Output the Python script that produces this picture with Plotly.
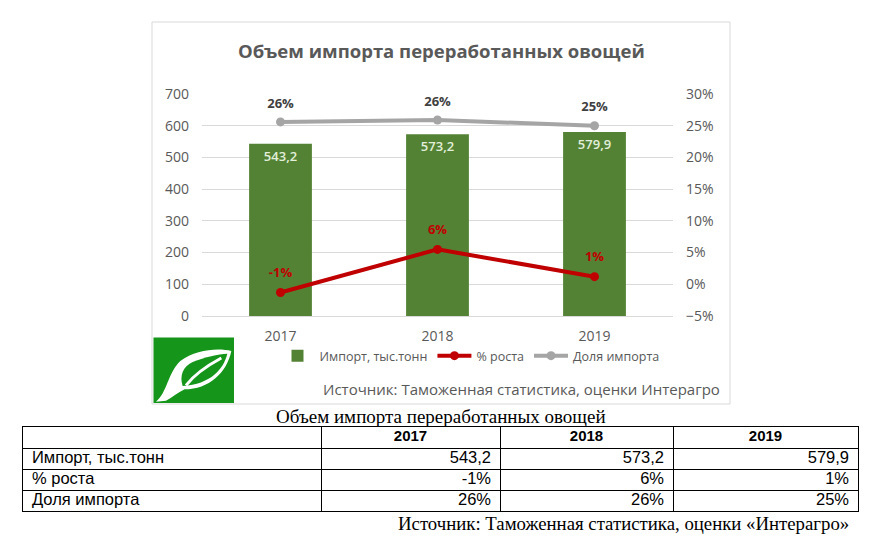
import plotly.graph_objects as go

# figure sits inside the page's 8px body margin
OX, OY = 8, 8
W, H = 875, 539

years = ['2017', '2018', '2019']
import_kt = [543.2, 573.2, 579.9]
growth = [-0.013, 0.055, 0.012]
share = [0.256, 0.259, 0.250]

growth_txt = ['-1%', '6%', '1%']
share_txt = ['26%', '26%', '25%']
row_labels = ['Импорт, тыс.тонн', '% роста', 'Доля импорта']

GREEN = '#548235'
RED = '#C00000'
GRAY = '#A5A5A5'
TXT = '#595959'
LOGO = '#15961A'
FONT = 'Open Sans'
TFONT = 'Liberation Sans'


def px(x, y):
    # reference pixel -> paper coords
    return (x - OX) / W, 1 - (y - OY) / H


def path(cmds, ox=0, oy=0, k=1):
    out = []
    for c in cmds:
        if isinstance(c, str):
            out.append(c)
        else:
            a, b = px(ox + c[0] * k, oy + c[1] * k)
            out.append(f'{a:.5f},{b:.5f}')
    return ' '.join(out)


def logo_path(cmds):
    # logo drawn in a 3x local grid
    return path(cmds, 152, 336, 1 / 3)


fig = go.Figure()

fig.add_trace(go.Bar(
    x=years, y=import_kt, name='Импорт, тыс.тонн',
    marker_color=GREEN, marker_line_width=0,
    texttemplate='%{y:.1f}', textposition='inside', insidetextanchor='end',
    textfont=dict(family=FONT, size=13, color='#E2EFDA', weight=600),
))

fig.add_trace(go.Scatter(
    x=years, y=growth, name='% роста', yaxis='y2', mode='lines+markers',
    line=dict(color=RED, width=4), marker=dict(color=RED, size=9),
))
fig.add_trace(go.Scatter(
    x=years, y=share, name='Доля импорта', yaxis='y2', mode='lines+markers',
    line=dict(color=GRAY, width=4), marker=dict(color=GRAY, size=9),
))
# data labels (invisible larger markers push the text up a bit)
fig.add_trace(go.Scatter(
    x=years, y=growth, yaxis='y2', mode='markers+text', text=growth_txt,
    textposition='top center', showlegend=False, hoverinfo='skip',
    marker=dict(size=18, opacity=0), cliponaxis=False,
    textfont=dict(family=FONT, size=13, color=RED, weight=700),
))
fig.add_trace(go.Scatter(
    x=years, y=share, yaxis='y2', mode='markers+text', text=share_txt,
    textposition='top center', showlegend=False, hoverinfo='skip',
    marker=dict(size=16, opacity=0), cliponaxis=False,
    textfont=dict(family=FONT, size=13, color='#404040', weight=700),
))

# ---- table under the chart, drawn on its own axes ----
col_edges = [0, 298, 477, 650, 835]
table_vals = [[f'{v:.1f}'.replace('.', ',') for v in import_kt], growth_txt, share_txt]

fig.add_trace(go.Scatter(
    x=[(col_edges[i + 1] + col_edges[i + 2]) / 2 for i in range(3)], y=[0.5] * 3,
    xaxis='x3', yaxis='y3', mode='text', text=[f'<b>{y}</b>' for y in years],
    textposition='middle center', showlegend=False, hoverinfo='skip', cliponaxis=False,
    textfont=dict(family=TFONT, size=15, color='black'),
))
fig.add_trace(go.Scatter(
    x=[9] * 3, y=[1.5, 2.5, 3.5], xaxis='x3', yaxis='y3', mode='text', text=row_labels,
    textposition='middle right', showlegend=False, hoverinfo='skip', cliponaxis=False,
    textfont=dict(family=TFONT, size=16.5, color='black'),
))
for i in range(3):
    fig.add_trace(go.Scatter(
        x=[col_edges[i + 2] - 9] * 3, y=[1.5, 2.5, 3.5], xaxis='x3', yaxis='y3', mode='text',
        text=[table_vals[r][i] for r in range(3)],
        textposition='middle left', showlegend=False, hoverinfo='skip', cliponaxis=False,
        textfont=dict(family=TFONT, size=16.5, color='black'),
    ))

x0, _ = px(202, 0)
x1, _ = px(673, 0)
_, y0 = px(0, 316)
_, y1 = px(0, 94)
tx0, ty0 = px(23, 511)
tx1, ty1 = px(858, 427)

shapes = []
# chart frame
bx0, by0 = px(152, 404)
bx1, by1 = px(730, 22)
shapes.append(dict(type='rect', xref='paper', yref='paper', x0=bx0, y0=by0, x1=bx1, y1=by1,
                   line=dict(color='#D9D9D9', width=1), fillcolor='rgba(0,0,0,0)', layer='below'))
# logo: green square with a white leaf
lx0, ly0 = px(153.5, 403)
lx1, ly1 = px(234, 337.5)
shapes.append(dict(type='rect', xref='paper', yref='paper', x0=lx0, y0=ly0, x1=lx1, y1=ly1,
                   line=dict(width=0), fillcolor=LOGO))
shapes.append(dict(type='path', xref='paper', yref='paper', line=dict(width=0), fillcolor='white',
                   path=logo_path(['M', (85, 75), 'C', (130, 40), (200, 35), (238, 45),
                                   'C', (225, 110), (170, 160), (98, 160),
                                   'C', (80, 168), (60, 185), (42, 194),
                                   'L', (12, 197),
                                   'C', (45, 170), (48, 110), (85, 75), 'Z'])))
shapes.append(dict(type='path', xref='paper', yref='paper', line=dict(width=0), fillcolor=LOGO,
                   path=logo_path(['M', (92, 150), 'C', (82, 120), (92, 92), (122, 78),
                                   'C', (160, 62), (198, 55), (226, 53),
                                   'C', (214, 100), (176, 144), (92, 150), 'Z'])))
shapes.append(dict(type='path', xref='paper', yref='paper', line=dict(color='white', width=3),
                   path=logo_path(['M', (102, 148), 'C', (125, 118), (160, 92), (208, 66)])))

annotations = [
    dict(text='<b>Объем импорта переработанных овощей</b>', x=px(441, 0)[0], y=px(0, 50)[1],
         xref='paper', yref='paper', showarrow=False, xanchor='center', yanchor='middle',
         font=dict(family=FONT, size=18.5, color=TXT)),
    dict(text='Источник: Таможенная статистика, оценки Интерагро', x=px(722, 0)[0], y=px(0, 389)[1],
         xref='paper', yref='paper', showarrow=False, xanchor='right', yanchor='middle',
         font=dict(family=FONT, size=15, color=TXT)),
    dict(text='Объем импорта переработанных овощей', x=px(441, 0)[0], y=px(0, 416)[1],
         xref='paper', yref='paper', showarrow=False, xanchor='center', yanchor='middle',
         font=dict(family='Liberation Serif', size=19, color='black')),
    dict(text='Источник: Таможенная статистика, оценки «Интерагро»', x=px(851, 0)[0], y=px(0, 523)[1],
         xref='paper', yref='paper', showarrow=False, xanchor='right', yanchor='middle',
         font=dict(family='Liberation Serif', size=18.8, color='black')),
]

fig.update_layout(
    width=W, height=H, margin=dict(l=0, r=0, t=0, b=0, autoexpand=False),
    paper_bgcolor='white', plot_bgcolor='white',
    separators=', ', bargap=0.6,
    font=dict(family=FONT, color=TXT),
    xaxis=dict(domain=[x0, x1], anchor='y', showgrid=False, showline=True, linecolor='#D9D9D9',
               ticks='', tickfont=dict(size=14, color=TXT), ticklabelstandoff=7, automargin=False),
    yaxis=dict(domain=[y0, y1], range=[0, 700], dtick=100, showgrid=True, gridcolor='#D9D9D9',
               zeroline=False, tickfont=dict(size=14, color=TXT), ticklabelstandoff=12,
               automargin=False),
    yaxis2=dict(overlaying='y', side='right', anchor='x', range=[-0.05, 0.30], dtick=0.05,
                tickformat='.0%', showgrid=False, zeroline=False, automargin=False,
                tickfont=dict(size=14, color=TXT), ticklabelstandoff=12),
    xaxis3=dict(domain=[tx0, tx1], anchor='y3', range=[0, col_edges[-1]], tickvals=col_edges[1:-1],
                showgrid=True, gridcolor='black', gridwidth=1, zeroline=False, showticklabels=False,
                showline=True, mirror=True, linecolor='black', linewidth=1, automargin=False),
    yaxis3=dict(domain=[ty0, ty1], anchor='x3', range=[4, 0], tickvals=[1, 2, 3],
                showgrid=True, gridcolor='black', gridwidth=1, zeroline=False, showticklabels=False,
                showline=True, mirror=True, linecolor='black', linewidth=1, automargin=False),
    legend=dict(orientation='h', x=px(470, 0)[0], y=px(0, 356)[1], xanchor='center', yanchor='middle',
                font=dict(size=12.5, color=TXT), bgcolor='rgba(0,0,0,0)', itemwidth=34),
    shapes=shapes, annotations=annotations,
)

fig.write_html('out.html')
